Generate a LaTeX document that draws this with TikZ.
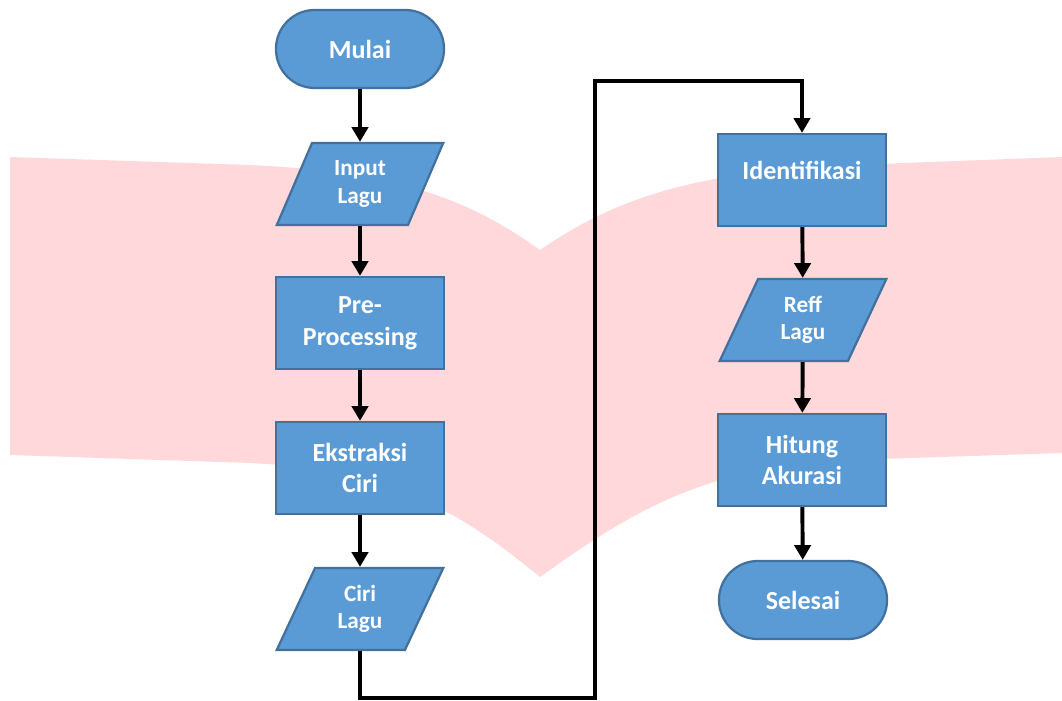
\documentclass[tikz,border=0pt]{standalone}
\usepackage{fontspec}
\setmainfont{Carlito}
\usetikzlibrary{shapes.geometric,arrows.meta}
\definecolor{boxblue}{RGB}{91,155,213}
\definecolor{boxedge}{RGB}{65,113,156}
\definecolor{wmpink}{RGB}{255,216,219}
\begin{document}
\begin{tikzpicture}[x=0.025cm,y=-0.025cm,
    flowbase/.style={draw=boxedge,line width=1.6pt,fill=boxblue,text=white,
      font=\fontsize{18.5}{22.5}\selectfont\bfseries,align=center,inner sep=2pt},
    termbox/.style={flowbase,rectangle,rounded corners=0.97cm,minimum width=4.2cm,minimum height=1.95cm},
    procbox/.style={flowbase,rectangle,minimum width=4.2cm,minimum height=2.3cm},
    iobox/.style={flowbase,trapezium,trapezium stretches=true,trapezium left angle=68,trapezium right angle=112,
      minimum width=4.18cm,minimum height=2.05cm,font=\fontsize{16.5}{19.5}\selectfont\bfseries},
    flowarrow/.style={line width=2.8pt,-{Triangle[width=11.5pt,length=10.5pt]}}]
  \useasboundingbox (0,0) rectangle (1062,701);
  % watermark behind the chart
  \fill[wmpink] (10,157) -- (250,165) .. controls (400,172) and (470,200) .. (540,250)
    -- (540,577) .. controls (470,520) and (400,470) .. (250,463) -- (10,455) -- cycle;
  \fill[wmpink] (540,250) .. controls (620,195) and (700,172) .. (850,165) -- (1062,157)
    -- (1062,453) -- (850,460) .. controls (700,465) and (620,520) .. (540,577) -- cycle;
  % left column
  \node[termbox] (mulai) at (360,49) {Mulai};
  \node[iobox] (input) at (360,184) {Input\\Lagu};
  \node[procbox] (prep) at (360,323) {Pre-\\Processing};
  \node[procbox] (ekstraksi) at (360,468) {Ekstraksi\\Ciri};
  \node[iobox] (ciri) at (360,609) {Ciri\\Lagu};
  % right column
  \node[procbox] (ident) at (802,180) {\raisebox{7pt}[\height][\depth]{Identifikasi}};
  \node[iobox] (reff) at (803,320) {Reff\\Lagu};
  \node[procbox] (hitung) at (802,460) {Hitung\\Akurasi};
  \node[termbox] (selesai) at (803,600) {Selesai};
  % bends of the long connector
  \coordinate (turnlow) at (595,698);
  \coordinate (turnhigh) at (595,81);
  \draw[flowarrow] (mulai) -- (input);
  \draw[flowarrow] (input) -- (prep);
  \draw[flowarrow] (prep) -- (ekstraksi);
  \draw[flowarrow] (ekstraksi) -- (ciri);
  \draw[flowarrow] (ciri.south) |- (turnlow) -- (turnhigh) -| (ident.north);
  \draw[flowarrow] (ident) -- (reff);
  \draw[flowarrow] (reff) -- (hitung);
  \draw[flowarrow] (hitung) -- (selesai);
\end{tikzpicture}
\end{document}
